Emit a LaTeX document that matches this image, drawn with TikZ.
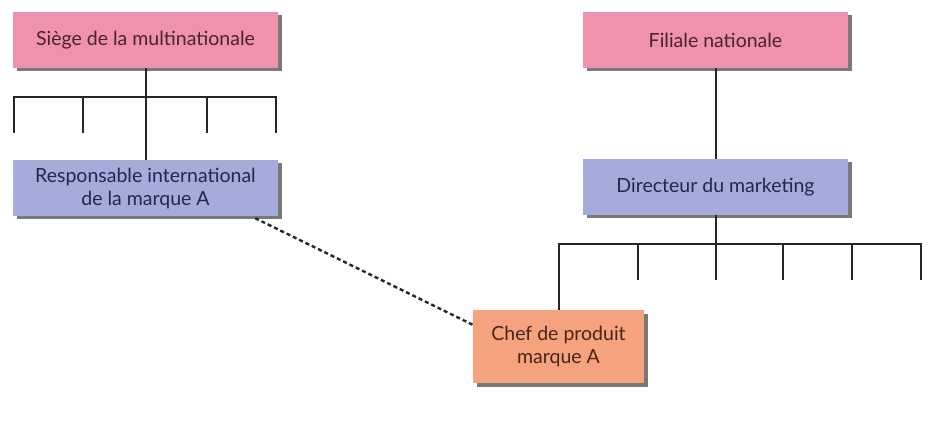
\documentclass[tikz,border=0pt]{standalone}
\usepackage{fontspec}
\setmainfont{Lato}
\usetikzlibrary{shadows,calc}
\definecolor{pinkbox}{HTML}{EE93AB}
\definecolor{bluebox}{HTML}{A5ABDA}
\definecolor{orangebox}{HTML}{F5A27E}
\definecolor{pinktxt}{HTML}{4A2233}
\definecolor{bluetxt}{HTML}{25264A}
\definecolor{orangetxt}{HTML}{4A2418}
\tikzset{
  box/.style={draw=none, minimum width=265pt, minimum height=56pt, inner sep=0pt,
    align=center, font=\fontsize{19.5}{23}\selectfont,
    drop shadow={shadow xshift=3.5pt, shadow yshift=-3.5pt, fill=black!70, opacity=0.75}},
  pinkb/.style={box, fill=pinkbox, text=pinktxt},
  blueb/.style={box, fill=bluebox, text=bluetxt},
  orangeb/.style={box, fill=orangebox, text=orangetxt, minimum width=171pt, minimum height=73pt},
  orgline/.style={line width=2pt, black!85},
  link/.style={line width=2.4pt, black!85, dash pattern=on 4pt off 3pt}
}
\begin{document}
\begin{tikzpicture}[x=1pt,y=-1pt]
\useasboundingbox (0,0) rectangle (929,422);
\node[pinkb] (siege) at (145.5,40) {Siège de la multinationale};
\node[blueb] (resp) at (145.5,188) {Responsable international\\de la marque A};
\node[pinkb] (fil) at (715.5,40) {Filiale nationale};
\node[blueb] (dir) at (715.5,187) {Directeur du marketing};
\node[orangeb] (chef) at (558.5,346.5) {Chef de produit\\marque A};
% left tree
\draw[orgline] (siege.south) -- (resp.north);
\draw[orgline] (14,133) -- (14,97) -- (276,97) -- (276,133);
\foreach \x in {83,207} \draw[orgline] (\x,97) -- (\x,133);
% right tree
\draw[orgline] (fil.south) -- (dir.north);
\draw[orgline] (dir.south) -- (715.5,280);
\draw[orgline] (chef.north) -- (558.5,244) -- (921,244) -- (921,280);
\foreach \x in {638,783,852} \draw[orgline] (\x,244) -- (\x,280);
% dashed link
\coordinate (ds) at ($(resp.south east)+(-23,2)$);
\coordinate (de) at ($(chef.north west)+(0,15)$);
\draw[link] (ds) -- (de);
\end{tikzpicture}
\end{document}
